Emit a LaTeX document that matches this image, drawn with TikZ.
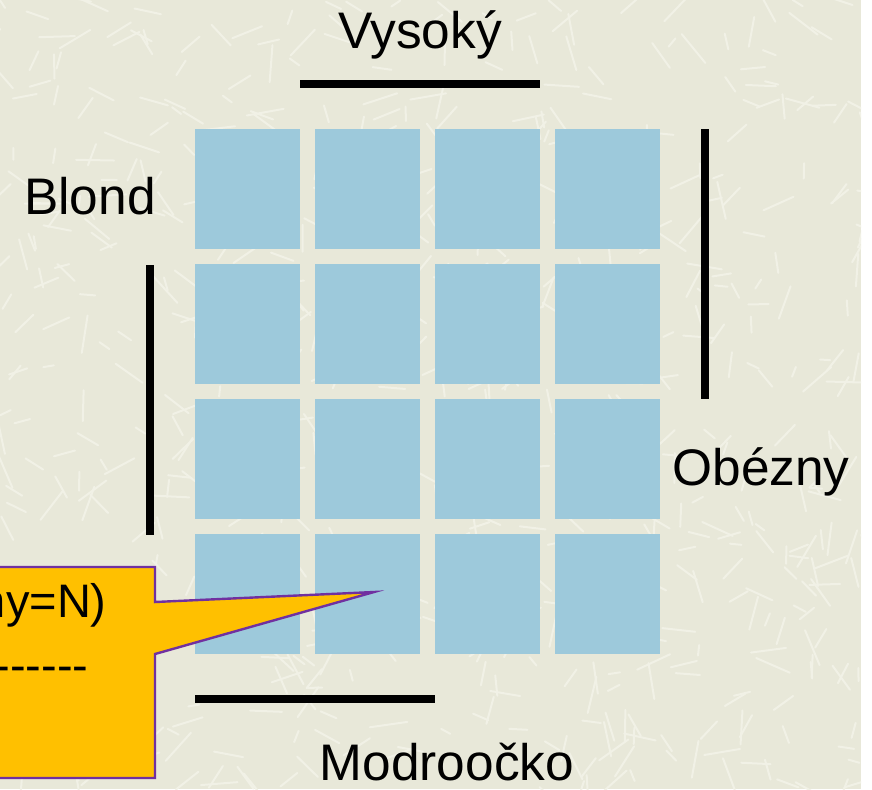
\documentclass[tikz,border=0pt]{standalone}
\usepackage{fontspec}
\setmainfont{Liberation Sans}
\definecolor{bgbeige}{HTML}{E8E8D9}
\definecolor{fiber}{HTML}{F1F1E6}
\definecolor{cellblue}{HTML}{9DC9DB}
\definecolor{calloutfill}{HTML}{FFC000}
\definecolor{calloutedge}{HTML}{7030A0}
\tikzset{
  cell/.style={fill=cellblue, draw=none, minimum width=52.5pt, minimum height=60pt, inner sep=0pt, anchor=north west},
  bar/.style={line width=3.75pt, black},
  lbl/.style={font=\fontsize{25.7}{30}\selectfont, inner sep=0pt, anchor=base},
  clbl/.style={font=\fontsize{23.5}{28}\selectfont, inner sep=0pt, anchor=base east},
  fibre/.style={fiber, line width=1pt, line cap=round}
}
\begin{document}
\begin{tikzpicture}[x=0.5pt,y=-0.5pt]
\useasboundingbox (0,0) rectangle (872,789);
\fill[white] (0,0) rectangle (872,789);
\fill[bgbeige] (0,0) rectangle (861,789);
\begin{scope}
  \clip (0,0) rectangle (861,789);
  \pgfmathsetseed{11}
  \foreach \i in {1,...,700}{
    \pgfmathsetmacro\fx{rnd*880-10}
    \pgfmathsetmacro\fy{rnd*800-5}
    \pgfmathsetmacro\fa{rnd*180}
    \pgfmathsetmacro\fl{10+rnd*28}
    \draw[fibre] (\fx,\fy) -- ++(\fa:\fl);
  }
\end{scope}
% grid of cells
\foreach \r/\yy in {1/129,2/264,3/399,4/534}{
  \foreach \c/\xx in {1/195,2/315,3/435,4/555}{
    \node[cell] (c\r\c) at (\xx,\yy) {};
  }
}
% bars
\coordinate (t1) at (300,84); \coordinate (t2) at (540,84);
\coordinate (r1) at (705,129); \coordinate (r2) at (705,399);
\coordinate (l1) at (150,265); \coordinate (l2) at (150,535);
\coordinate (b1) at (195,699); \coordinate (b2) at (435,699);
\draw[bar] (t1) -- (t2);
\draw[bar] (r1) -- (r2);
\draw[bar] (l1) -- (l2);
\draw[bar] (b1) -- (b2);
% labels
\node[lbl] (vys) at (420,48) {Vysoký};
\node[lbl] (blond) at (90,214) {Blond};
\node[lbl] (obez) at (761,485) {Obézny};
\node[lbl] (modr) at (447,780) {Modroočko};
% callout
\coordinate (tip) at (374,592);
\draw[fill=calloutfill, draw=calloutedge, line width=1.2pt, line join=miter]
  (-10,567) -- (155,567) -- (155,602) -- (tip) -- (155,654) -- (155,778) -- (-10,778) -- cycle;
\node[clbl] (ct1) at (107,617) {ny=N)};
\node[clbl] (ct2) at (89,681) {-{}-{}-{}-{}-{}-{}-};
\end{tikzpicture}
\end{document}
